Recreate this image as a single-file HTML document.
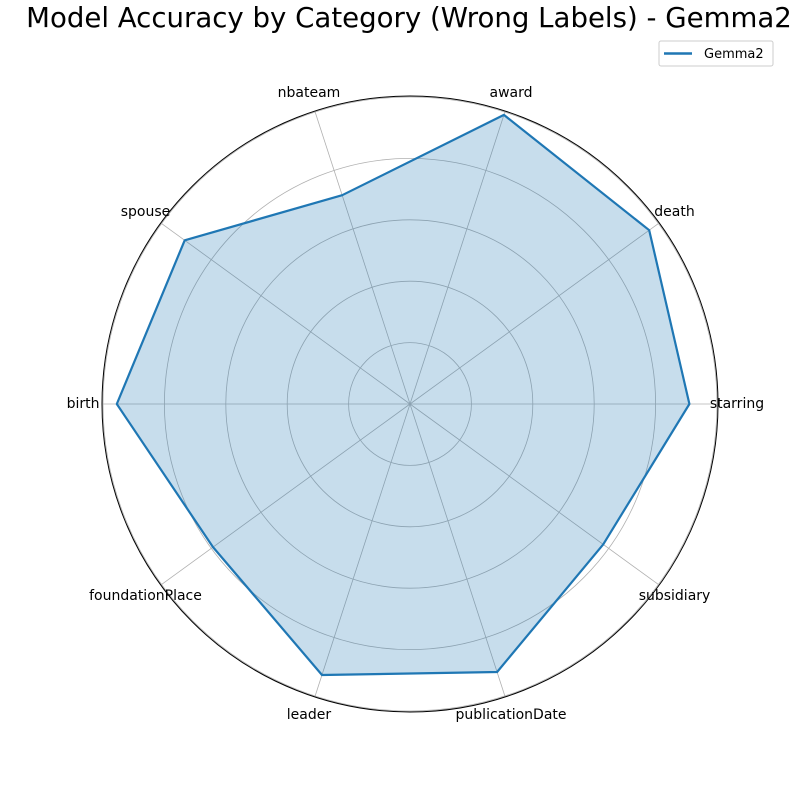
<!DOCTYPE html>
<html><head><meta charset="utf-8"><style>
body{margin:0;background:#fff;}
svg{font-family:"DejaVu Sans","Liberation Sans",sans-serif;}
</style></head><body>
<svg id="chart" width="800" height="800" viewBox="0 0 800 800">
<text x="409" y="27" font-size="27.6" text-anchor="middle">Model Accuracy by Category (Wrong Labels) - Gemma2</text>
<g id="grid"></g><g id="series"></g><g id="labels"></g>
<g>
<rect x="659" y="41" width="114" height="25" rx="2" fill="#fff" stroke="#ccc"/>
<line x1="664" y1="53.5" x2="692" y2="53.5" stroke="#1f77b4" stroke-width="2.5"/>
<text x="704" y="58" font-size="13">Gemma2</text>
</g>
</svg>
<script>
const categories=["starring","death","award","nbateam","spouse","birth","foundationPlace","leader","publicationDate","subsidiary"];
const values=[0.91,0.963,0.99,0.715,0.907,0.955,0.793,0.928,0.918,0.778];
const gridLevels=[0.2,0.4,0.6,0.8,1.0];
const cx=410,cy=404,R=307;
const NS="http://www.w3.org/2000/svg";
function ang(i){return i*2*Math.PI/categories.length;}
function px(i,v){return cx+Math.cos(ang(i))*v*R;}
function py(i,v){return cy-Math.sin(ang(i))*v*R;}
function mk(t,a,p){const e=document.createElementNS(NS,t);for(const k in a)e.setAttribute(k,a[k]);p.appendChild(e);return e;}
const grid=document.getElementById('grid');
gridLevels.forEach(g=>{const c=mk('circle',{cx:cx,cy:cy,r:g*R,fill:'none',stroke:'#b0b0b0','stroke-width':0.8},grid);

});
categories.forEach((c,i)=>{const l=mk('line',{x1:cx,y1:cy,x2:px(i,1),y2:py(i,1),stroke:'#b0b0b0','stroke-width':0.8},grid);

});
const sp=mk('circle',{cx:cx,cy:cy,r:R+1,fill:'none',stroke:'#000','stroke-width':1},grid);


const pts=values.map((v,i)=>px(i,v).toFixed(1)+','+py(i,v).toFixed(1)).join(' ');
const ser=document.getElementById('series');
const poly=mk('polygon',{points:pts,fill:'#1f77b4','fill-opacity':0.25,stroke:'#1f77b4','stroke-width':2.2,'stroke-linejoin':'round'},ser);


const lab=document.getElementById('labels');
categories.forEach((c,i)=>{const t=mk('text',{x:px(i,1.065),y:py(i,1.065),'font-size':14,'text-anchor':'middle','dominant-baseline':'central'},lab);
t.textContent=c;

});
</script>
</body></html>
